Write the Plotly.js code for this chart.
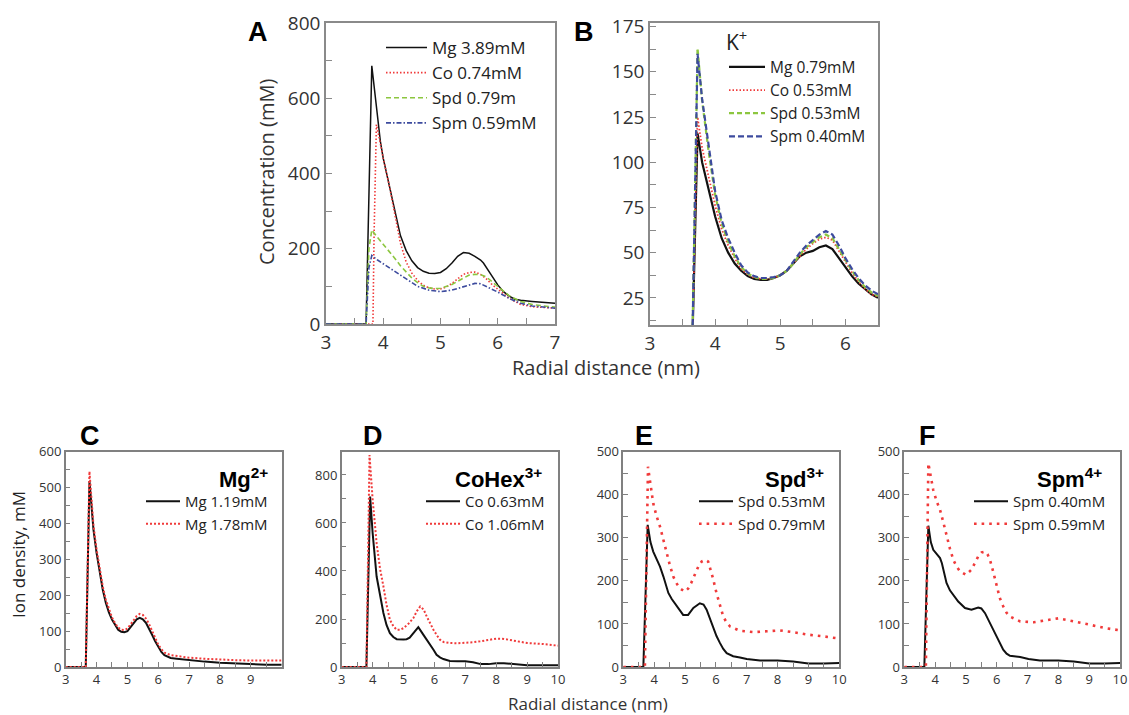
<!DOCTYPE html>
<html>
<head>
<meta charset="utf-8">
<script src="https://cdn.plot.ly/plotly-3.0.1.min.js"></script>
<style>
  html, body { margin: 0; padding: 0; background: #fff; }
  #chart { width: 1129px; height: 715px; }
</style>
</head>
<body>
<div id="chart"></div>
<script>
// ---------- Panel A : total concentration ----------
const aMgX  = [3.0, 3.7, 3.8, 3.85, 3.9, 3.95, 4.0, 4.05, 4.1, 4.2, 4.3, 4.4, 4.5, 4.6, 4.7, 4.8, 4.9, 5.0, 5.1, 5.2, 5.3, 5.4, 5.5, 5.6, 5.7, 5.75, 5.8, 5.9, 6.0, 6.1, 6.2, 6.3, 6.4, 6.6, 6.8, 7.0];
const aMgY  = [0, 0, 686, 620, 545, 485, 440, 405, 372, 300, 235, 195, 168, 150, 140, 135, 134, 137, 147, 162, 180, 190, 188, 180, 170, 162, 150, 128, 104, 86, 74, 66, 63, 60, 57, 55];
const aCoX  = [3.0, 3.82, 3.84, 3.88, 3.95, 4.0, 4.1, 4.2, 4.3, 4.4, 4.5, 4.6, 4.7, 4.8, 4.9, 5.0, 5.1, 5.2, 5.3, 5.4, 5.5, 5.6, 5.7, 5.8, 5.9, 6.0, 6.2, 6.4, 6.6, 6.8, 7.0];
const aCoY  = [0, 0, 240, 530, 480, 440, 372, 295, 215, 165, 135, 116, 103, 96, 93, 93, 98, 108, 120, 132, 137, 138, 132, 120, 105, 92, 68, 52, 46, 44, 42];
const aSpdX = [3.0, 3.7, 3.75, 3.8, 3.9, 4.0, 4.1, 4.2, 4.3, 4.4, 4.5, 4.6, 4.7, 4.8, 4.9, 5.0, 5.2, 5.4, 5.5, 5.6, 5.7, 5.8, 5.9, 6.0, 6.2, 6.4, 6.6, 6.8, 7.0];
const aSpdY = [0, 0, 200, 250, 230, 212, 195, 175, 155, 138, 122, 110, 100, 96, 94, 95, 105, 122, 130, 132, 131, 125, 112, 100, 75, 60, 52, 48, 45];
const aSpmX = [3.0, 3.7, 3.75, 3.8, 3.9, 4.0, 4.2, 4.4, 4.6, 4.8, 5.0, 5.2, 5.4, 5.6, 5.7, 5.8, 6.0, 6.2, 6.4, 6.6, 7.0];
const aSpmY = [0, 0, 150, 182, 170, 160, 140, 118, 100, 90, 86, 90, 100, 108, 107, 100, 85, 68, 55, 48, 42];
const aNames = ["Mg 3.89mM", "Co 0.74mM", "Spd 0.79m", "Spm 0.59mM"];

// ---------- Panel B : K+ ----------
const bX    = [3.65, 3.73, 3.8, 3.9, 4.0, 4.1, 4.2, 4.3, 4.4, 4.5, 4.6, 4.7, 4.8, 4.9, 5.0, 5.1, 5.2, 5.3, 5.4, 5.5, 5.6, 5.7, 5.8, 5.9, 6.0, 6.1, 6.2, 6.3, 6.4, 6.5];
const bMgY  = [0, 116, 100, 85, 70, 58, 50, 44, 40, 37, 35.5, 35, 35, 36, 37.5, 40, 44, 48, 50, 51, 53, 54, 52, 47, 42, 37, 33, 30, 27, 25];
const bCoY  = [0, 125, 108, 92, 76, 63, 54, 47, 41, 38, 36, 35.5, 35.5, 36, 37.5, 40, 44, 48, 52, 55, 57.5, 58.5, 57, 51, 45, 39, 34, 30, 27, 25.5];
const bSpdY = [0, 163, 134, 106, 82, 66, 56, 48, 42, 38.5, 36.5, 35.5, 35.5, 36, 37.5, 40, 44, 49, 53, 56, 58.5, 60, 58, 52, 46, 40, 35, 31, 28, 26];
const bSpmY = [0, 160, 135, 108, 84, 68, 58, 50, 43, 39, 37, 36, 36, 36.5, 37.5, 40, 45, 50, 54, 57, 60, 62, 60, 54, 47, 41, 36, 32, 29, 27];
const bNames = ["Mg 0.79mM", "Co 0.53mM", "Spd 0.53mM", "Spm 0.40mM"];

// ---------- Panel C : Mg2+ ----------
const cX   = [3.0, 3.65, 3.77, 3.85, 3.9, 4.0, 4.1, 4.2, 4.3, 4.4, 4.5, 4.6, 4.7, 4.8, 4.9, 5.0, 5.1, 5.2, 5.3, 5.4, 5.5, 5.6, 5.7, 5.8, 5.9, 6.0, 6.1, 6.2, 6.4, 6.6, 6.8, 7.0, 7.5, 8.0, 8.5, 9.0, 9.5, 10.0];
const cLoY = [0, 0, 518, 430, 383, 318, 262, 216, 179, 152, 132, 116, 104, 98, 97, 100, 110, 123, 133, 137, 133, 123, 108, 90, 72, 55, 42, 33, 25, 23, 21, 20, 15, 12, 10, 7, 6, 6];
const cHiY = [0, 0, 545, 445, 395, 328, 272, 225, 188, 160, 138, 122, 110, 104, 103, 107, 117, 130, 142, 148, 145, 135, 120, 100, 80, 62, 50, 40, 33, 30, 28, 26, 23, 20, 19, 18, 18, 18];
const cNames = ["Mg 1.19mM", "Mg 1.78mM"];

// ---------- Panel D : CoHex3+ ----------
const dLoX = [3.0, 3.8, 3.92, 4.0, 4.13, 4.25, 4.35, 4.45, 4.56, 4.67, 4.78, 5.0, 5.1, 5.2, 5.32, 5.48, 5.64, 5.75, 5.86, 5.97, 6.07, 6.18, 6.29, 6.5, 6.75, 7.0, 7.25, 7.5, 7.75, 8.0, 8.25, 8.5, 8.75, 9.0, 9.5, 10.0];
const dLoY = [0, 0, 710, 560, 377, 290, 225, 175, 141, 125, 116, 115, 116, 122, 141, 166, 135, 115, 97, 72, 51, 40, 33, 25, 24, 24, 20, 12, 12, 16, 16, 14, 10, 7, 7, 7];
const dHiX = [3.0, 3.8, 3.9, 4.0, 4.13, 4.24, 4.35, 4.45, 4.56, 4.67, 4.78, 4.89, 5.0, 5.16, 5.32, 5.43, 5.54, 5.65, 5.75, 5.86, 5.97, 6.08, 6.18, 6.3, 6.5, 6.75, 7.0, 7.25, 7.48, 7.75, 8.0, 8.25, 8.56, 8.75, 9.0, 9.5, 10.0];
const dHiY = [0, 0, 883, 700, 516, 410, 336, 260, 197, 170, 155, 155, 162, 180, 204, 232, 252, 240, 211, 180, 155, 132, 114, 104, 100, 99, 100, 103, 107, 113, 118, 117, 111, 106, 100, 96, 89];
const dNames = ["Co 0.63mM", "Co 1.06mM"];

// ---------- Panel E : Spd3+ ----------
const eLoX = [3.0, 3.65, 3.79, 3.88, 3.97, 4.08, 4.19, 4.3, 4.46, 4.57, 4.67, 4.8, 4.94, 5.1, 5.27, 5.48, 5.6, 5.7, 5.81, 5.92, 6.02, 6.13, 6.24, 6.35, 6.56, 6.78, 7.0, 7.43, 8.0, 8.5, 9.0, 9.5, 10.0];
const eLoY = [0, 0, 330, 290, 268, 250, 233, 210, 172, 158, 148, 133, 121, 121, 137, 148, 145, 133, 112, 90, 72, 56, 42, 32, 25, 22, 18.5, 15, 15, 13, 8, 8, 9];
const eHiX = [3.0, 3.7, 3.8, 3.88, 3.97, 4.08, 4.19, 4.3, 4.4, 4.51, 4.62, 4.72, 4.83, 4.99, 5.1, 5.2, 5.32, 5.43, 5.54, 5.65, 5.75, 5.8, 5.91, 6.02, 6.13, 6.24, 6.35, 6.46, 6.78, 7.2, 7.65, 8.08, 8.5, 9.0, 9.5, 10.0];
const eHiY = [0, 0, 465, 420, 380, 350, 326, 295, 264, 236, 210, 195, 183, 175, 182, 195, 215, 233, 245, 249, 245, 233, 205, 172, 143, 117, 103, 94, 84, 81, 83, 85, 81, 75, 71, 66];
const eNames = ["Spd 0.53mM", "Spd 0.79mM"];

// ---------- Panel F : Spm4+ ----------
const fLoX = [3.0, 3.65, 3.78, 3.86, 3.94, 4.05, 4.16, 4.22, 4.37, 4.48, 4.59, 4.75, 4.97, 5.18, 5.4, 5.5, 5.62, 5.78, 5.89, 6.0, 6.1, 6.21, 6.32, 6.43, 6.76, 7.03, 7.4, 8.0, 8.5, 9.0, 9.5, 10.0];
const fLoY = [0, 0, 328, 290, 272, 262, 253, 241, 195, 178, 168, 152, 137, 133, 138, 136, 125, 102, 87, 71, 55, 40, 31, 26, 23, 18.5, 15, 15, 13, 8, 8, 9];
const fHiX = [3.0, 3.7, 3.78, 3.86, 3.94, 4.05, 4.16, 4.27, 4.37, 4.48, 4.59, 4.7, 4.81, 5.0, 5.18, 5.29, 5.4, 5.51, 5.62, 5.7, 5.78, 5.89, 6.0, 6.1, 6.21, 6.32, 6.43, 6.76, 7.2, 7.64, 8.0, 8.5, 9.0, 9.56, 10.0];
const fHiY = [0, 0, 473, 440, 411, 385, 365, 335, 303, 275, 249, 233, 222, 214, 226, 240, 257, 266, 268, 262, 249, 220, 187, 160, 141, 126, 117, 106, 104, 108, 113, 106, 98, 90, 85];
const fNames = ["Spm 0.40mM", "Spm 0.59mM"];

// tick labels
const topXTicks = [3, 4, 5, 6, 7];
const bXTicks = [3, 4, 5, 6];
const cXTicks = [3, 4, 5, 6, 7, 8, 9];
const lowXTicks = [3, 4, 5, 6, 7, 8, 9, 10];

// ---------- styling ----------
const W = 1129, H = 715;
const FONT = "Open Sans, Noto Sans, sans-serif";
const BOLD = "Liberation Sans, Arial, sans-serif";
const BLACK = "#111111", RED = "#f03a3a", GREEN = "#8cc63f", BLUE = "#3d4b9e";
const px = v => v / W;
const py = v => 1 - v / H;

function tr(x, y, name, xa, ya, lg, color, width, dash) {
  return { type: "scatter", mode: "lines", x: x, y: y, name: name,
    xaxis: xa, yaxis: ya, legend: lg,
    line: { color: color, width: width, dash: dash }, hoverinfo: "x+y" };
}

const data = [
  tr(aMgX, aMgY, aNames[0], "x", "y", "legend", BLACK, 1.5, "solid"),
  tr(aCoX, aCoY, aNames[1], "x", "y", "legend", RED, 1.6, "1.5px,2px"),
  tr(aSpdX, aSpdY, aNames[2], "x", "y", "legend", GREEN, 1.6, "5px,3px"),
  tr(aSpmX, aSpmY, aNames[3], "x", "y", "legend", BLUE, 1.6, "5px,2px,1.5px,2px"),

  tr(bX, bMgY, bNames[0], "x2", "y2", "legend2", BLACK, 2.2, "solid"),
  tr(bX, bCoY, bNames[1], "x2", "y2", "legend2", RED, 1.8, "1.5px,2px"),
  tr(bX, bSpdY, bNames[2], "x2", "y2", "legend2", GREEN, 2.2, "5px,3px"),
  tr(bX, bSpmY, bNames[3], "x2", "y2", "legend2", BLUE, 2.2, "6px,3px"),

  tr(cX, cLoY, cNames[0], "x3", "y3", "legend3", BLACK, 2, "solid"),
  tr(cX, cHiY, cNames[1], "x3", "y3", "legend3", RED, 2, "2px,2px"),

  tr(dLoX, dLoY, dNames[0], "x4", "y4", "legend4", BLACK, 2, "solid"),
  tr(dHiX, dHiY, dNames[1], "x4", "y4", "legend4", RED, 2, "2px,2px"),

  tr(eLoX, eLoY, eNames[0], "x5", "y5", "legend5", BLACK, 2, "solid"),
  tr(eHiX, eHiY, eNames[1], "x5", "y5", "legend5", RED, 2.6, "2.6px,5px"),

  tr(fLoX, fLoY, fNames[0], "x6", "y6", "legend6", BLACK, 2, "solid"),
  tr(fHiX, fHiY, fNames[1], "x6", "y6", "legend6", RED, 2.6, "2.6px,5px")
];

function axis(domain, range, anchor, opts) {
  const o = {
    domain: domain, range: range, anchor: anchor,
    showline: true, mirror: true, linecolor: opts.lc, linewidth: opts.lw,
    ticks: "inside", ticklen: opts.tl, tickwidth: 1, tickcolor: opts.lc,
    showgrid: false, zeroline: false, fixedrange: true,
    tickfont: { family: FONT, size: opts.fs, color: "#333" },
    minor: { ticks: "inside", ticklen: opts.tl, tickwidth: 1, tickcolor: opts.lc, dtick: opts.minor, showgrid: false }
  };
  if (opts.vals) { o.tickmode = "array"; o.tickvals = opts.vals; }
  else { o.dtick = opts.dtick; o.tick0 = opts.tick0 || 0; }
  return o;
}

const topO = { lc: "#8a8a8a", lw: 1.5, tl: 6, fs: 19 };
const lowO = { lc: "#808080", lw: 1.5, tl: 5, fs: 13 };

function legendBox(x, y, size, extra) {
  return Object.assign({
    x: x, y: y, xanchor: "left", yanchor: "top", xref: "paper", yref: "paper",
    bgcolor: "rgba(0,0,0,0)", borderwidth: 0, itemwidth: 30,
    font: { family: FONT, size: size, color: "#222" }, traceorder: "normal",
    itemclick: false, itemdoubleclick: false
  }, extra || {});
}

const layout = {
  width: W, height: H, autosize: false,
  margin: { l: 0, r: 0, t: 0, b: 0 },
  paper_bgcolor: "#fff", plot_bgcolor: "#fff",
  showlegend: true,
  xaxis:  axis([px(326), px(555)], [3, 7], "y", Object.assign({ vals: topXTicks, minor: 0.5 }, topO)),
  yaxis:  axis([py(324), py(23)], [0, 800], "x", Object.assign({ dtick: 200, minor: 100 }, topO)),
  xaxis2: axis([px(650), px(878)], [3, 6.5], "y2", Object.assign({ vals: bXTicks, minor: 0.5 }, topO)),
  yaxis2: axis([py(325), py(23)], [10, 177], "x2", Object.assign({ dtick: 25, minor: 12.5 }, topO)),
  xaxis3: axis([px(65.7), px(281.7)], [3, 10], "y3", Object.assign({ vals: cXTicks, minor: 0.5 }, lowO)),
  yaxis3: axis([py(667), py(451.7)], [0, 600], "x3", Object.assign({ dtick: 100, minor: 50 }, lowO)),
  xaxis4: axis([px(341.7), px(558)], [3, 10], "y4", Object.assign({ vals: lowXTicks, minor: 0.5 }, lowO)),
  yaxis4: axis([py(667), py(451.7)], [0, 897], "x4", Object.assign({ dtick: 200, minor: 100 }, lowO)),
  xaxis5: axis([px(623.3), px(839.3)], [3, 10], "y5", Object.assign({ vals: lowXTicks, minor: 0.5 }, lowO)),
  yaxis5: axis([py(667), py(451.7)], [0, 500], "x5", Object.assign({ dtick: 100, minor: 50 }, lowO)),
  xaxis6: axis([px(904.3), px(1120)], [3, 10], "y6", Object.assign({ vals: lowXTicks, minor: 0.5 }, lowO)),
  yaxis6: axis([py(667), py(451.7)], [0, 500], "x6", Object.assign({ dtick: 100, minor: 50 }, lowO)),

  legend:  legendBox(px(381), py(30), 17, { itemwidth: 41 }),
  legend2: legendBox(px(724), py(23), 15.5, { itemwidth: 36, title: { text: "K<sup>+</sup>", font: { family: FONT, size: 21, color: "#222" }, side: "top" } }),
  legend3: legendBox(px(141), py(485), 15, { itemwidth: 34 }),
  legend4: legendBox(px(421), py(485), 15, { itemwidth: 34 }),
  legend5: legendBox(px(694), py(485), 15, { itemwidth: 34 }),
  legend6: legendBox(px(969), py(485), 15, { itemwidth: 34 }),

  annotations: [
    // panel letters
    { text: "<b>A</b>", x: px(258), y: py(32) },
    { text: "<b>B</b>", x: px(584), y: py(32) },
    { text: "<b>C</b>", x: px(90), y: py(436) },
    { text: "<b>D</b>", x: px(373), y: py(436) },
    { text: "<b>E</b>", x: px(644), y: py(436) },
    { text: "<b>F</b>", x: px(928), y: py(436) }
  ].map(a => Object.assign(a, { xref: "paper", yref: "paper", showarrow: false,
      xanchor: "center", yanchor: "middle", font: { family: BOLD, size: 27, color: "#000" } }))
  .concat([
    { text: "<b>Mg<sup>2+</sup></b>", x: px(270), y: py(478) },
    { text: "<b>CoHex<sup>3+</sup></b>", x: px(544), y: py(478) },
    { text: "<b>Spd<sup>3+</sup></b>", x: px(826), y: py(478) },
    { text: "<b>Spm<sup>4+</sup></b>", x: px(1104), y: py(478) }
  ].map(a => Object.assign(a, { xref: "paper", yref: "paper", showarrow: false,
      xanchor: "right", yanchor: "middle", font: { family: BOLD, size: 22, color: "#000" } })))
  .concat([
    { text: "Concentration (mM)", x: px(266), y: py(172), textangle: -90, font: { family: FONT, size: 20, color: "#333" } },
    { text: "Radial distance (nm)", x: px(606), y: py(367), font: { family: FONT, size: 20, color: "#333" } },
    { text: "Ion density, mM", x: px(18), y: py(555), textangle: -90, font: { family: FONT, size: 17, color: "#222" } },
    { text: "Radial distance (nm)", x: px(588), y: py(703), font: { family: FONT, size: 17, color: "#333" } }
  ].map(a => Object.assign(a, { xref: "paper", yref: "paper", showarrow: false,
      xanchor: "center", yanchor: "middle" })))
};

Plotly.newPlot("chart", data, layout, { displayModeBar: false, staticPlot: false });
</script>
</body>
</html>
